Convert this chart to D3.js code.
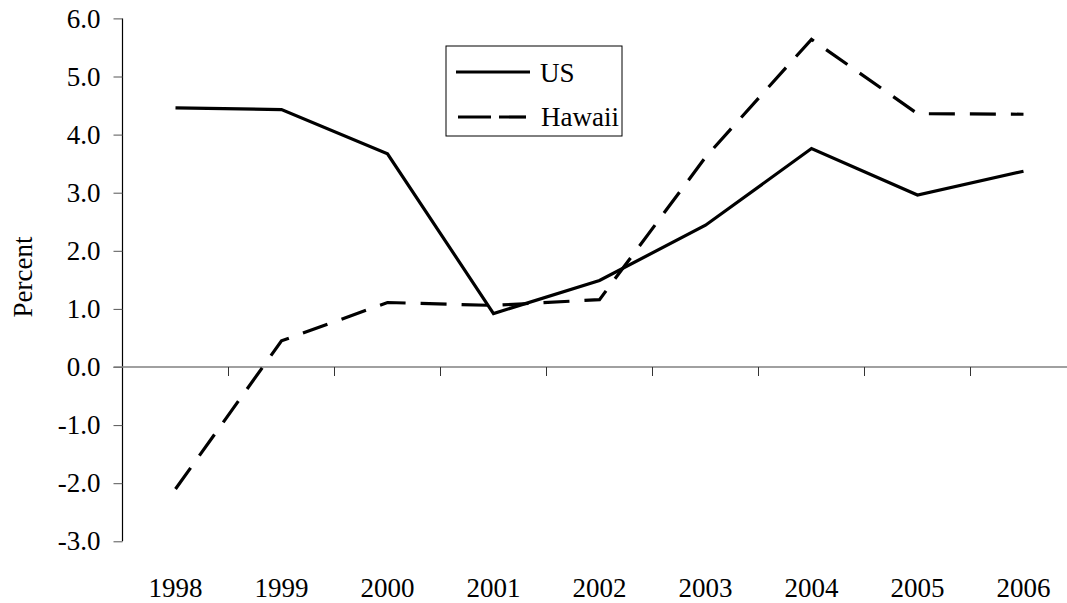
<!DOCTYPE html>
<html><head><meta charset="utf-8">
<script src="https://cdn.jsdelivr.net/npm/d3@7"></script>
<style>body{margin:0;background:#fff}svg{display:block}</style>
</head><body><svg id="c" width="1067" height="603"></svg>
<script>
const years = ["1998","1999","2000","2001","2002","2003","2004","2005","2006"];
const usValues = [4.46, 4.43, 3.67, 0.92, 1.49, 2.44, 3.76, 2.96, 3.37];
const hawaiiValues = [-2.1, 0.45, 1.11, 1.06, 1.16, 3.61, 5.64, 4.36, 4.35];
const yTicks = [6, 5, 4, 3, 2, 1, 0, -1, -2, -3];
const seriesNames = ["US", "Hawaii"];

(function () {
const FONT = '"Liberation Serif", "Times New Roman", Times, serif';
const svg = d3.select("#c");
const pLeft = 122.5, pRight = 1076.5, pTop = 18.4, pBottom = 541.3;
const x = d3.scaleBand().domain(years).range([pLeft, pRight]);
const y = d3.scaleLinear().domain([-3, 6]).range([pBottom, pTop]);
const fs = "27px";
const fmt = v => d3.format(".1f")(v).replace("\u2212", "-");

const yAxis = svg.append("g").attr("transform", `translate(${pLeft},0)`)
  .call(d3.axisLeft(y).tickValues(yTicks).tickSize(9).tickFormat(fmt));
yAxis.attr("font-family", null).attr("font-size", null);
yAxis.select(".domain").attr("stroke", "#000").attr("stroke-width", 1.2).attr("d", `M0,${pTop}V${pBottom}`);
yAxis.selectAll(".tick line").attr("stroke", "#555");
yAxis.selectAll(".tick text").attr("x", -22).attr("fill", "#000")
  .style("font-family", FONT).style("font-size", fs);

const xAxis = svg.append("g").attr("transform", `translate(0,${y(0)})`)
  .call(d3.axisBottom(x).tickSize(0).tickFormat(""));
xAxis.select(".domain").attr("stroke", "#808080").attr("stroke-width", 1.5).attr("d", `M${pLeft - 9},0H${pRight}`);
xAxis.selectAll(".tick").remove();
svg.append("g").selectAll("line").data(years.slice(1)).join("line")
  .attr("x1", d => x(d)).attr("x2", d => x(d))
  .attr("y1", y(0)).attr("y2", y(0) + 9).attr("stroke", "#333").attr("stroke-width", 1);

svg.append("g").selectAll("text").data(years).join("text")
  .attr("x", d => x(d) + x.bandwidth() / 2).attr("y", 597)
  .attr("text-anchor", "middle").style("font-family", FONT).style("font-size", fs).text(d => d);

svg.append("text").attr("transform", "translate(32,277) rotate(-90)")
  .attr("text-anchor", "middle").style("font-family", FONT).style("font-size", fs).text("Percent");

const line = d3.line().x((d, i) => x(years[i]) + x.bandwidth() / 2).y(d => y(d));
svg.append("path").datum(usValues).attr("d", line).attr("fill", "none")
  .attr("stroke", "#000").attr("stroke-width", 3.2).attr("stroke-linejoin", "miter");
svg.append("path").datum(hawaiiValues).attr("d", line).attr("fill", "none")
  .attr("stroke", "#000").attr("stroke-width", 3.2).attr("stroke-dasharray", "26,15");

const lg = svg.append("g");
lg.append("rect").attr("x", 446).attr("y", 46).attr("width", 176).attr("height", 90)
  .attr("fill", "#fff").attr("stroke", "#000").attr("stroke-width", 1);
lg.append("line").attr("x1", 456).attr("x2", 530).attr("y1", 72).attr("y2", 72)
  .attr("stroke", "#000").attr("stroke-width", 3.2);
lg.append("line").attr("x1", 458).attr("x2", 526).attr("y1", 117).attr("y2", 117)
  .attr("stroke", "#000").attr("stroke-width", 3.2).attr("stroke-dasharray", "33,8");
lg.append("text").attr("x", 540).attr("y", 82).style("font-family", FONT).style("font-size", fs).text(seriesNames[0]);
lg.append("text").attr("x", 541).attr("y", 126).style("font-family", FONT).style("font-size", fs).text(seriesNames[1]);
})();
</script></body></html>
